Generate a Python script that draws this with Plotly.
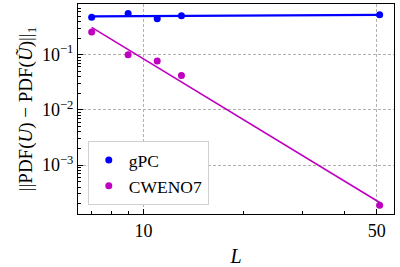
import numpy as np
import plotly.graph_objects as go

L_vals = [7, 9, 11, 13, 51]
gpc_err = [0.48, 0.56, 0.45, 0.51, 0.53]
cweno_err = [0.258, 0.10, 0.077, 0.042, 0.000187]

x_ticks = [10, 50]
x_ticklabels = ["10", "50"]
y_ticks = [1e-3, 1e-2, 1e-1]
y_ticklabels = ["10<sup>−3</sup>", "10<sup>−2</sup>", "10<sup>−1</sup>"]

BLUE = "#0000ff"
MAG = "#bf00bf"
FONT = "Liberation Serif, Times New Roman, serif"


def loglog_fit(x, y):
    lx, ly = np.log10(x), np.log10(y)
    p = np.polyfit(lx, ly, 1)
    xf = np.array([min(x), max(x)], dtype=float)
    return xf, 10 ** np.polyval(p, np.log10(xf))


fig = go.Figure()
for name, ys, col, lw in [("gPC", gpc_err, BLUE, 2.2), ("CWENO7", cweno_err, MAG, 1.6)]:
    xf, yf = loglog_fit(L_vals, ys)
    fig.add_trace(go.Scatter(x=xf, y=yf, mode="lines", line=dict(color=col, width=lw),
                             showlegend=False, hoverinfo="skip"))
for name, ys, col in [("gPC", gpc_err, BLUE), ("CWENO7", cweno_err, MAG)]:
    fig.add_trace(go.Scatter(x=L_vals, y=ys, mode="markers", name=name,
                             marker=dict(color=col, size=7)))

y_minor = [m * 10.0 ** e for e in range(-4, 1) for m in range(2, 10)]
x_minor = [7, 8, 9, 20, 30, 40]

fig.update_layout(
    width=400, height=267,
    margin=dict(l=78, r=6, t=4, b=53),
    paper_bgcolor="white", plot_bgcolor="white",
    font=dict(family=FONT, size=17, color="black"),
    showlegend=True,
    legend=dict(x=0.031, y=0.042, xanchor="left", yanchor="bottom",
                bgcolor="white", bordercolor="#d0d0d0", borderwidth=1,
                font=dict(family=FONT, size=17.5), itemwidth=30,
                tracegroupgap=0),
)
fig.update_xaxes(
    type="log", range=[np.log10(6.37), np.log10(56.3)], automargin=False,
    tickmode="array", tickvals=x_ticks, ticktext=x_ticklabels,
    ticks="inside", ticklen=5, tickcolor="black", tickwidth=1,
    showline=True, linecolor="black", linewidth=1.2, mirror=True,
    showgrid=True, gridcolor="#b0b0b0", griddash="3px,2px", gridwidth=0.8,
    zeroline=False,
    tickfont=dict(family=FONT, size=18),
    minor=dict(tickmode="array", tickvals=x_minor, ticks="inside", ticklen=3,
               tickcolor="black", showgrid=False),
    title=dict(text="<i>L</i>", font=dict(family=FONT, size=20), standoff=11),
)
fig.update_yaxes(
    type="log", range=[np.log10(1.3e-4), np.log10(0.83)], automargin=False,
    tickmode="array", tickvals=y_ticks, ticktext=y_ticklabels,
    ticks="inside", ticklen=5, tickcolor="black", tickwidth=1,
    showline=True, linecolor="black", linewidth=1.2, mirror=True,
    showgrid=True, gridcolor="#b0b0b0", griddash="3px,2px", gridwidth=0.8,
    zeroline=False,
    tickfont=dict(family=FONT, size=18),
    minor=dict(tickmode="array", tickvals=y_minor, ticks="inside", ticklen=3,
               tickcolor="black", showgrid=False),
    title=dict(text="||PDF(<i>U</i>) − PDF(<i>U\u0303</i>)||<sub>1</sub>",
               font=dict(family=FONT, size=19), standoff=4),
)

fig.write_html("out.html", config={"displayModeBar": False},
               post_script="document.body.style.margin='0';")
